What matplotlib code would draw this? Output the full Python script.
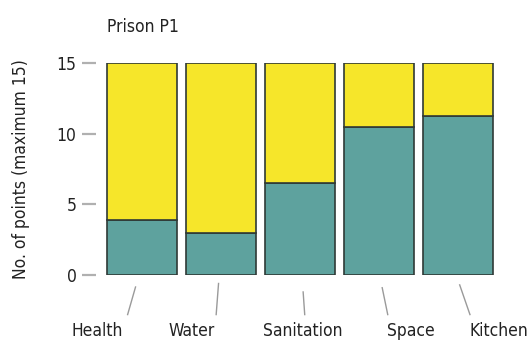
import matplotlib.pyplot as plt

categories = ["Health", "Water", "Sanitation", "Space", "Kitchen"]
points = [3.9, 3.0, 6.5, 10.5, 11.25]
maximum = 15
yticks = [0, 5, 10, 15]

# hand-drawn placement of the labels and their little pointer strokes
label_shift = [-0.56, -0.37, 0.04, 0.40, 0.51]
stroke_top = [(-0.08, -0.85), (-0.03, -0.6), (0.04, -1.2), (0.04, -0.9), (0.02, -0.7)]
stroke_bot = [-0.18, -0.06, 0.06, 0.11, 0.15]

TEAL = "#5ea29e"
YELLOW = "#f6e62a"
EDGE = "#2f3a36"
TEXT = "#222222"

plt.rcParams["font.family"] = ["Liberation Sans Narrow", "DejaVu Sans"]
plt.rcParams["font.stretch"] = "condensed"

fig = plt.figure(figsize=(5.32, 3.41), dpi=100)
ax = fig.add_axes([96 / 532, 66 / 341, 404 / 532, 212 / 341])

x = list(range(len(categories)))
rest = [maximum - p for p in points]
ax.bar(x, points, width=0.89, color=TEAL, edgecolor=EDGE, linewidth=1.2)
ax.bar(x, rest, bottom=points, width=0.89, color=YELLOW, edgecolor=EDGE,
       linewidth=1.2)

ax.set_xlim(-0.58, 4.53)
ax.set_ylim(0, maximum)
ax.set_yticks(yticks)
ax.set_xticks([])
ax.tick_params(axis="y", length=10, width=1.6, color="#b0b0b0", pad=4,
               labelsize=12.5, labelcolor=TEXT)
for s in ax.spines.values():
    s.set_visible(False)

for i, name in enumerate(categories):
    dx, top = stroke_top[i]
    ax.plot([i + dx, i + stroke_bot[i]], [top, -2.8], color="#9a9a9a",
            lw=1.0, clip_on=False)
    ax.text(i + label_shift[i], -3.3, name, ha="center", va="top",
            fontsize=12.5, color=TEXT, clip_on=False)

ax.set_ylabel("No. of points (maximum 15)", fontsize=12.5, color=TEXT,
              labelpad=19)
fig.text(107 / 532, 1 - 27 / 341, "Prison P1", fontsize=12.5, color=TEXT,
         ha="left", va="center")

fig.savefig("out.png", dpi=100)
